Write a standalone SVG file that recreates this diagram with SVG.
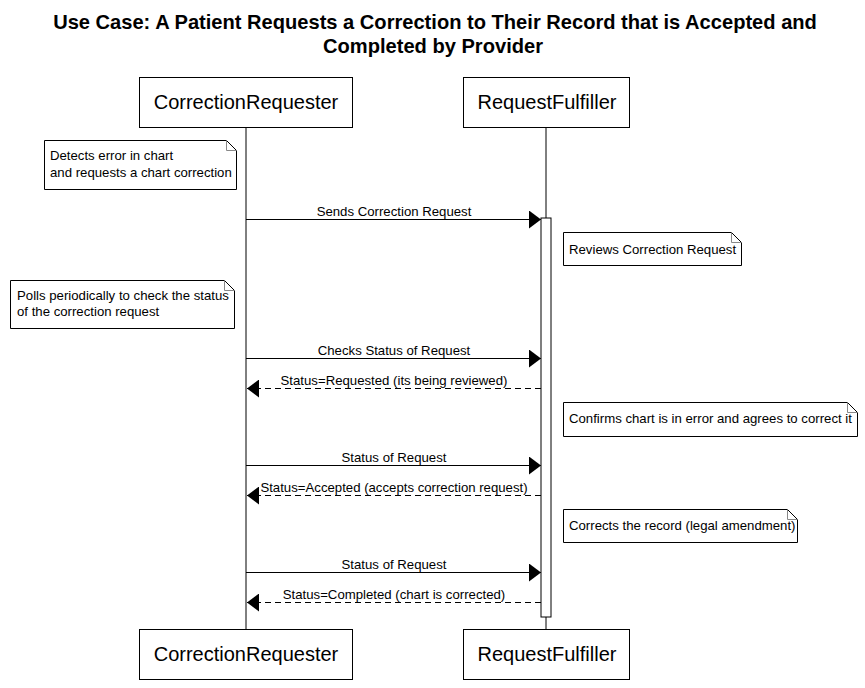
<svg xmlns="http://www.w3.org/2000/svg" width="865" height="688" viewBox="0 0 865 688">
<style>
.title{font-family:"Liberation Sans",Arial,sans-serif;font-weight:bold;font-size:20.1px;text-anchor:middle;fill:#000}
.part rect{fill:#fff;stroke:#000;stroke-width:1}
.part text{font-family:"Liberation Sans",Arial,sans-serif;font-size:20px;text-anchor:middle;fill:#000}
.note path{fill:#fff;stroke:#000;stroke-width:1}
.note .fold{fill:none;stroke:#888}
.note text{font-family:"Liberation Sans",Arial,sans-serif;font-size:13.2px;fill:#000}
.life{stroke:#000;stroke-width:1;fill:none}
.msg{stroke:#000;stroke-width:1;fill:none}
.ret{stroke:#000;stroke-width:1;fill:none;stroke-dasharray:6,4}
.lbl{font-family:"Liberation Sans",Arial,sans-serif;font-size:13.2px;text-anchor:middle;fill:#000}
.act{fill:#fff;stroke:#000;stroke-width:1}
</style>
<defs>
<marker id="ah" markerWidth="12" markerHeight="18" refX="12" refY="9" orient="auto" markerUnits="userSpaceOnUse">
<path d="M0,0 L12,9 L0,18 Z" fill="#000"/>
</marker>
</defs>
<rect width="865" height="688" fill="#fff"/>
<g id="title">
<text class="title" x="435" y="29">Use Case: A Patient Requests a Correction to Their Record that is Accepted and</text>
<text class="title" x="433" y="53">Completed by Provider</text>
</g>
<g id="lifelines">
<line class="life" x1="246" y1="127" x2="246" y2="629"/>
<line class="life" x1="546" y1="127" x2="546" y2="629"/>
</g>
<g id="activation">
<rect class="act" x="541" y="218" width="10" height="399"/>
</g>
<g id="p1-top" class="part"><rect x="139.5" y="77.5" width="213" height="50"/><text x="246" y="109">CorrectionRequester</text></g>
<g id="p2-top" class="part"><rect x="463.5" y="77.5" width="166" height="50"/><text x="547" y="109">RequestFulfiller</text></g>
<g id="p1-bottom" class="part"><rect x="139.5" y="629.5" width="213" height="50"/><text x="246" y="661">CorrectionRequester</text></g>
<g id="p2-bottom" class="part"><rect x="463.5" y="629.5" width="166" height="50"/><text x="547" y="661">RequestFulfiller</text></g>
<g id="note1" class="note">
<path d="M44.5,140.5 H226.5 L236.5,150.5 V189.5 H44.5 Z"/><path class="fold" d="M226.5,140.5 V150.5 H236.5"/>
<text x="50" y="160">Detects error in chart</text><text x="50" y="177">and requests a chart correction</text>
</g>
<g id="note2" class="note">
<path d="M10.5,280.5 H224.5 L234.5,290.5 V328.5 H10.5 Z"/><path class="fold" d="M224.5,280.5 V290.5 H234.5"/>
<text x="17" y="300">Polls periodically to check the status</text><text x="17" y="316">of the correction request</text>
</g>
<g id="note3" class="note">
<path d="M563.5,232.5 H731.5 L741.5,242.5 V265.5 H563.5 Z"/><path class="fold" d="M731.5,232.5 V242.5 H741.5"/>
<text x="569" y="254">Reviews Correction Request</text>
</g>
<g id="note4" class="note">
<path d="M563.5,402.5 H847.5 L857.5,412.5 V436.5 H563.5 Z"/><path class="fold" d="M847.5,402.5 V412.5 H857.5"/>
<text x="569" y="423">Confirms chart is in error and agrees to correct it</text>
</g>
<g id="note5" class="note">
<path d="M563.5,509.5 H787.5 L797.5,519.5 V542.5 H563.5 Z"/><path class="fold" d="M787.5,509.5 V519.5 H797.5"/>
<text x="569" y="530">Corrects the record (legal amendment)</text>
</g>
<g id="connectors">
<line class="msg" x1="246" y1="219.5" x2="541" y2="219.5" marker-end="url(#ah)"/>
<text class="lbl" x="394" y="216">Sends Correction Request</text>
<line class="msg" x1="246" y1="358.5" x2="541" y2="358.5" marker-end="url(#ah)"/>
<text class="lbl" x="394" y="355">Checks Status of Request</text>
<line class="ret" x1="541" y1="388.5" x2="247" y2="388.5" marker-end="url(#ah)"/>
<text class="lbl" x="394" y="385">Status=Requested (its being reviewed)</text>
<line class="msg" x1="246" y1="465.5" x2="541" y2="465.5" marker-end="url(#ah)"/>
<text class="lbl" x="394" y="462">Status of Request</text>
<line class="ret" x1="541" y1="495.5" x2="247" y2="495.5" marker-end="url(#ah)"/>
<text class="lbl" x="394" y="492">Status=Accepted (accepts correction request)</text>
<line class="msg" x1="246" y1="572.5" x2="541" y2="572.5" marker-end="url(#ah)"/>
<text class="lbl" x="394" y="569">Status of Request</text>
<line class="ret" x1="541" y1="602.5" x2="247" y2="602.5" marker-end="url(#ah)"/>
<text class="lbl" x="394" y="599">Status=Completed (chart is corrected)</text>
</g>
</svg>
